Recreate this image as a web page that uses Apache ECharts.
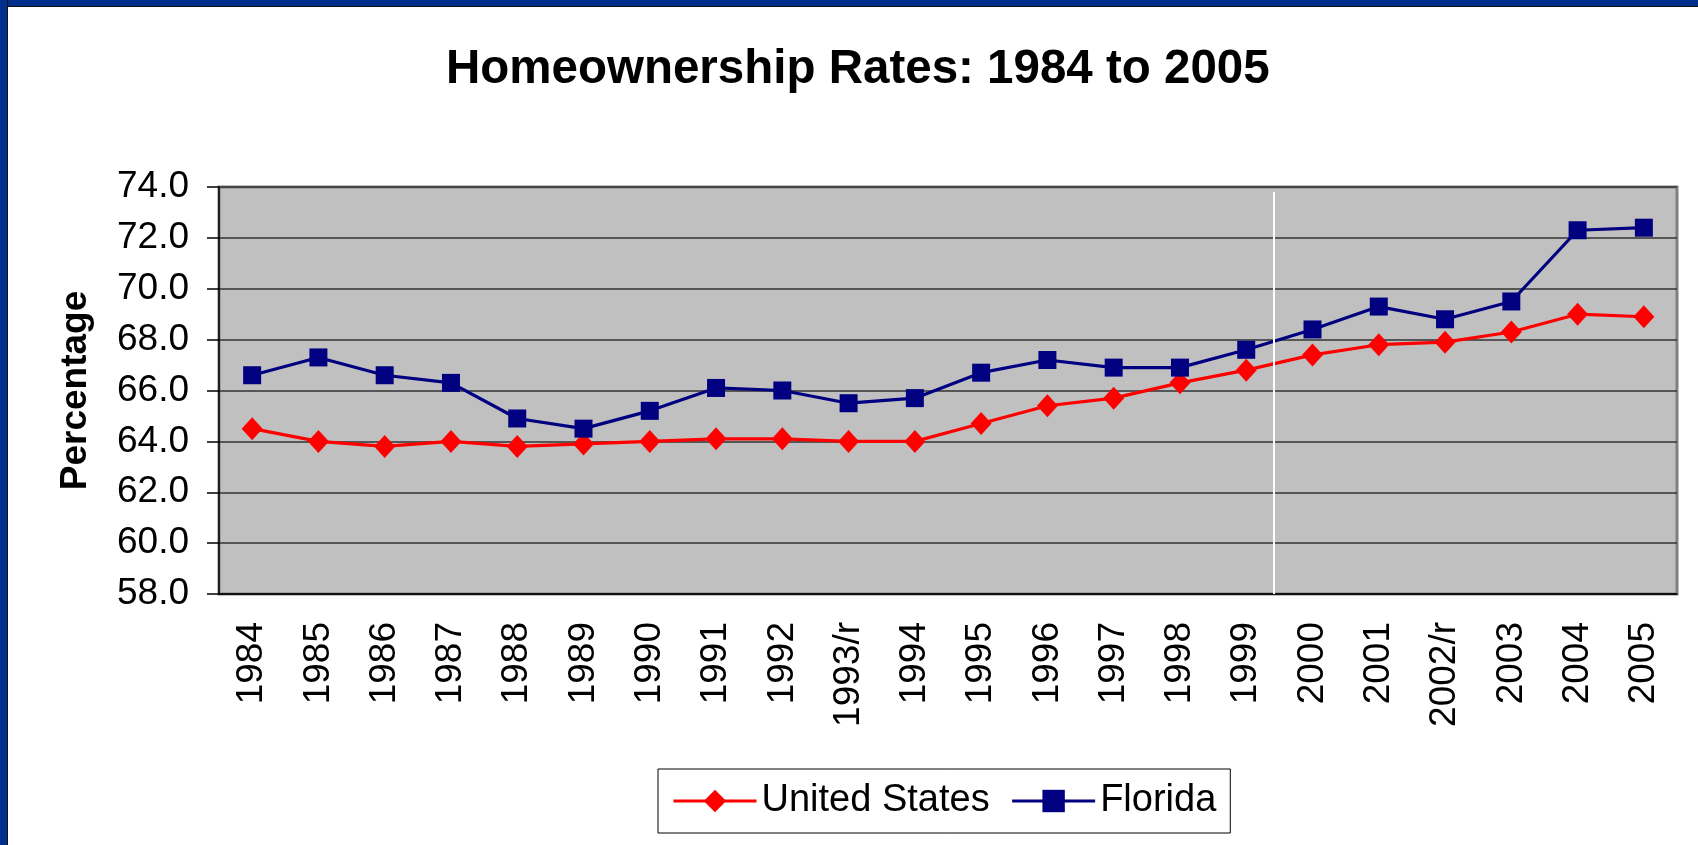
<!DOCTYPE html>
<html>
<head>
<meta charset="utf-8">
<script src="https://cdn.jsdelivr.net/npm/echarts@6/dist/echarts.min.js"></script>
<style>
    html, body { margin: 0; padding: 0; background: #fff; }
    #chart { position: absolute; left: 0; top: 0; width: 1698px; height: 845px; }
    #bar_top { position: absolute; left: 0; top: 0; width: 1698px; height: 6px; background: #00308C; border-bottom: 1px solid #111; }
    #bar_left { position: absolute; left: 0; top: 0; width: 7px; height: 845px; background: #00308C; border-right: 1px solid #111; }
</style>
</head>
<body>
<div id="chart"></div>
<div id="bar_top"></div>
<div id="bar_left"></div>
<script>
var years = ['1984', '1985', '1986', '1987', '1988', '1989', '1990', '1991', '1992', '1993/r', '1994',
    '1995', '1996', '1997', '1998', '1999', '2000', '2001', '2002/r', '2003', '2004', '2005'];
var unitedStates = [64.5, 64.0, 63.8, 64.0, 63.8, 63.9, 64.0, 64.1, 64.1, 64.0, 64.0,
    64.7, 65.4, 65.7, 66.3, 66.8, 67.4, 67.8, 67.9, 68.3, 69.0, 68.9];
var florida = [66.6, 67.3, 66.6, 66.3, 64.9, 64.5, 65.2, 66.1, 66.0, 65.5, 65.7,
    66.7, 67.2, 66.9, 66.9, 67.6, 68.4, 69.3, 68.8, 69.5, 72.3, 72.4];
// white separator line sits just before 2000
var breakPos = 15.92;

var font = '"Liberation Sans", Arial, sans-serif';
var chart = echarts.init(document.getElementById('chart'));
chart.setOption({
    backgroundColor: '#fff',
    animation: false,
    title: {
        text: 'Homeownership Rates: 1984 to 2005',
        left: 446,
        top: 46,
        padding: 0,
        textStyle: {
            color: '#000',
            fontFamily: font,
            fontWeight: 'bold',
            fontSize: 47.5
        }
    },
    legend: {
        left: 658,
        top: 769,
        padding: [13, 14, 13, 14],
        itemWidth: 83,
        itemHeight: 28,
        itemGap: 21,
        borderColor: '#000',
        borderWidth: 1,
        lineStyle: { width: 3 },
        textStyle: {
            color: '#000',
            fontFamily: font,
            fontSize: 38
        },
        data: ['United States', 'Florida']
    },
    grid: {
        left: 219,
        right: 21,
        top: 187,
        bottom: 251,
        show: true,
        backgroundColor: '#C0C0C0',
        borderColor: '#808080',
        borderWidth: 3
    },
    xAxis: [{
        type: 'category',
        data: years,
        boundaryGap: true,
        axisLine: { lineStyle: { color: '#000', width: 1.5 } },
        axisTick: { length: 12, interval: 0, lineStyle: { color: '#000', width: 1.5 } },
        axisLabel: {
            interval: 0,
            rotate: 90,
            margin: 28,
            color: '#000',
            fontFamily: font,
            fontSize: 37
        }
    }, {
        type: 'value',
        min: 0,
        max: 22,
        show: false
    }],
    yAxis: {
        type: 'value',
        min: 58,
        max: 74,
        interval: 2,
        name: 'Percentage',
        nameLocation: 'middle',
        nameRotate: 90,
        nameGap: 125,
        nameTextStyle: {
            color: '#000',
            fontFamily: font,
            fontWeight: 'bold',
            fontSize: 37
        },
        axisLine: { show: true, lineStyle: { color: '#000', width: 1.5 } },
        axisTick: { show: true, length: 12, lineStyle: { color: '#000', width: 1.5 } },
        axisLabel: {
            margin: 30,
            color: '#000',
            fontFamily: font,
            fontSize: 37,
            formatter: function (v) { return v.toFixed(1); }
        },
        splitLine: { lineStyle: { color: '#333', width: 1.5 } }
    },
    series: [{
        name: 'United States',
        type: 'line',
        data: unitedStates,
        symbol: 'diamond',
        symbolSize: [21, 23],
        color: '#FF0000',
        lineStyle: { color: '#FF0000', width: 3.2 },
        itemStyle: { color: '#FF0000' },
        z: 3
    }, {
        name: 'Florida',
        type: 'line',
        data: florida,
        symbol: 'rect',
        symbolSize: 18,
        color: '#000080',
        lineStyle: { color: '#000080', width: 3.2 },
        itemStyle: { color: '#000080' },
        z: 4
    }, {
        name: 'separator',
        type: 'line',
        xAxisIndex: 1,
        data: [],
        markLine: {
            silent: true,
            symbol: 'none',
            label: { show: false },
            lineStyle: { color: '#fff', width: 2, type: 'solid' },
            data: [[{ coord: [breakPos, 73.8] }, { coord: [breakPos, 58] }]]
        },
        z: 2
    }]
});
window.onresize = chart.resize;
</script>
</body>
</html>
